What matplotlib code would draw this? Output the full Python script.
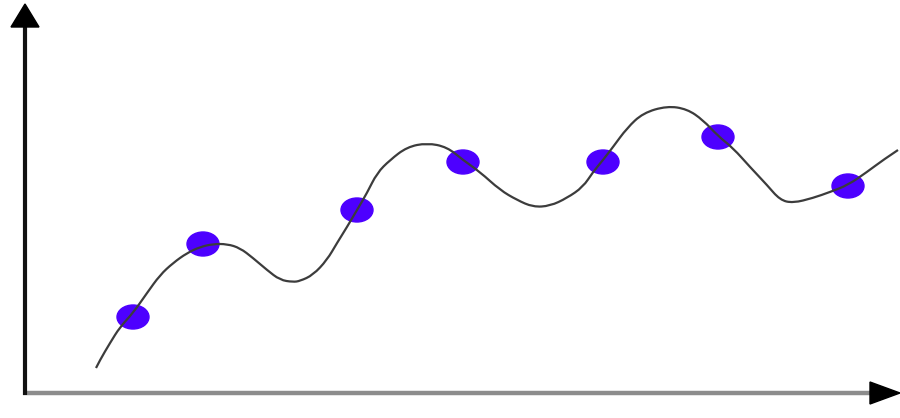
import numpy as np
import matplotlib.pyplot as plt
from matplotlib.patches import Ellipse, PathPatch
from matplotlib.path import Path

# curve
curve_x = [71, 75, 85, 95, 108, 122, 135, 148, 162, 175, 188, 202, 215, 228, 242,
           255, 268, 275, 288, 302, 312, 322, 332, 342, 352, 365, 382, 402, 422,
           438, 455, 475, 492, 508, 525, 542, 558, 568, 578, 588, 602, 618, 642,
           662, 678, 693, 708, 725, 742, 755, 768, 788, 805, 823, 842, 858, 873]
curve_y = [25, 33, 50, 66, 80, 100, 118, 130, 140, 146, 149, 149, 145, 135, 123,
           113, 111, 112, 118, 133, 150, 166, 183, 200, 220, 233, 246, 250, 246,
           233, 221, 203, 193, 186, 187, 195, 206, 221, 233, 246, 265, 280, 287,
           284, 273, 257, 245, 226, 208, 193, 190, 195, 201, 208, 221, 233, 243]

# sample points (blue dots)
pts_x = [108, 178, 332, 438, 578, 693, 823]
pts_y = [76, 149, 183, 231, 231, 256, 207]

fig = plt.figure(figsize=(9, 4.18), dpi=100)
ax = fig.add_axes([0, 0, 1, 1])
ax.set_xlim(-25, 875)
ax.set_ylim(-25, 393)
ax.axis('off')

# axes with arrows
ax.plot([-2, 846], [0, 0], color='#8c8c8c', lw=3.2, solid_capstyle='butt', zorder=1)
ax.fill([845, 875, 845], [-11, 0, 11], color='black', zorder=2)
ax.plot([0, 0], [-2, 370], color='#111111', lw=3.0, solid_capstyle='butt', zorder=2)
ax.fill([-14, 0, 14], [366, 389, 366], color='black', zorder=2)

# dots
for x, y in zip(pts_x, pts_y):
    ax.add_patch(Ellipse((x, y), 32, 24, color='#4d00ff', zorder=3))

# curve: traced points used as quadratic bezier controls so the line is smooth
p = np.column_stack([curve_x, curve_y]).astype(float)
verts = [p[0]]
codes = [Path.MOVETO]
for i in range(1, len(p) - 1):
    verts += [p[i], (p[i] + p[i + 1]) / 2 if i < len(p) - 2 else p[i + 1]]
    codes += [Path.CURVE3, Path.CURVE3]
ax.add_patch(PathPatch(Path(verts, codes), fill=False, edgecolor='#3c3c3c',
                       lw=1.6, zorder=4))

fig.savefig('out.png', dpi=100)
